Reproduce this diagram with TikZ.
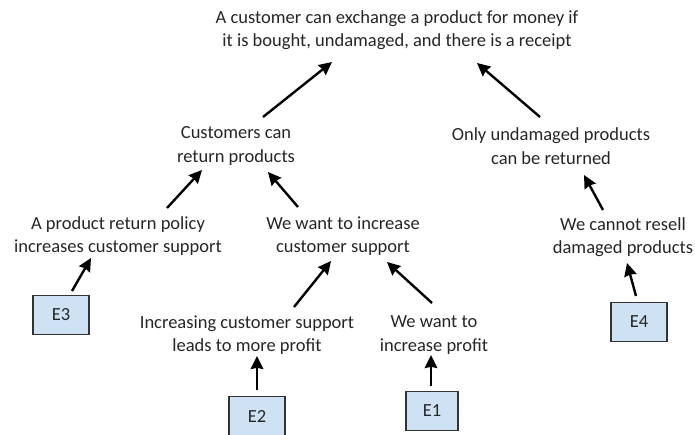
\documentclass[tikz,border=0pt]{standalone}
\usepackage{fontspec}
\setmainfont{Carlito}
\usetikzlibrary{arrows.meta}

\definecolor{boxblue}{HTML}{CFE2F3}
\definecolor{textgray}{HTML}{262626}

\begin{document}
\begin{tikzpicture}[
    x=1pt, y=-1pt, % Pixel-like units, y grows downwards
    % Define claim style
    claim/.style={
        align=center, % Center alignment
        inner sep=0pt, % Text only
        text=textgray, % Dark gray text
        font=\fontsize{18.5}{23.5}\selectfont % Text size
      },
    % Define evidence style
    evidence/.style={
        draw=black!80, % Draw border
        fill=boxblue, % Light blue fill
        rectangle, % Rectangle shape
        line width=1.3pt, % Border thickness
        minimum width=56pt, % Minimum width
        minimum height=39pt, % Minimum height
        text=textgray, % Dark gray text
        font=\fontsize{18.5}{22}\selectfont % Text size
      },
    % Define arrow style
    ->, % Default arrow direction
    >={Stealth[length=13pt, width=12.5pt, inset=1.2pt]}, % Arrow type
    line width=2.4pt % Line thickness
  ]

  \useasboundingbox (0,0) rectangle (695,435); % Picture frame

  % Define claims
  \node[claim] (Exchange) at (397,30) {A customer can exchange a product for money if\\it is bought, undamaged, and there is a receipt}; % Top claim
  \node[claim] (Return) at (236,146) {Customers can\\return products}; % Left middle
  \node[claim] (Undamaged) at (551,146) {Only undamaged products\\can be returned}; % Right middle
  \node[claim] (Policy) at (118,236) {A product return policy\\increases customer support}; % Left
  \node[claim] (Support) at (343,236) {We want to increase\\customer support}; % Middle
  \node[claim] (Resell) at (623,237) {We cannot resell\\damaged products}; % Right
  \node[claim] (Increasing) at (247,335) {Increasing customer support\\leads to more profit}; % Lower left
  \node[claim] (Profit) at (434,335) {We want to\\increase profit}; % Lower right

  % Define evidence boxes
  \node[evidence] (E3) at (61,315) {E3}; % Below policy
  \node[evidence] (E2) at (257,416) {E2}; % Below increasing
  \node[evidence, minimum width=52pt] (E1) at (432,411) {E1}; % Below profit
  \node[evidence] (E4) at (639,322) {E4}; % Below resell

  % Draw arrows
  \draw ([shift={(27,-29)}]Return.center) -- ([shift={(-65,32)}]Exchange.center);
  \draw ([shift={(-11,-29)}]Undamaged.center) -- ([shift={(80,33)}]Exchange.center);
  \draw ([shift={(49,-28)}]Policy.center) -- ([shift={(-34,24)}]Return.center);
  \draw ([shift={(-45,-29)}]Support.center) -- ([shift={(32,26)}]Return.center);
  \draw ([shift={(-20,-27)}]Resell.center) -- ([shift={(33,29)}]Undamaged.center);
  \draw ([shift={(47,-28)}]Increasing.center) -- ([shift={(-12,25)}]Support.center);
  \draw ([shift={(-2,-32)}]Profit.center) -- ([shift={(44,26)}]Support.center);

  % Evidence arrows
  \draw ([shift={(11,-24)}]E3.center) -- ([shift={(-27,22)}]Policy.center);
  \draw ([shift={(0,-26)}]E2.center) -- ([shift={(10,21)}]Increasing.center);
  \draw ([shift={(-1,-25)}]E1.center) -- ([shift={(-3,20)}]Profit.center);
  \draw ([shift={(-3,-26)}]E4.center) -- ([shift={(4,26)}]Resell.center);

\end{tikzpicture}
\end{document}
